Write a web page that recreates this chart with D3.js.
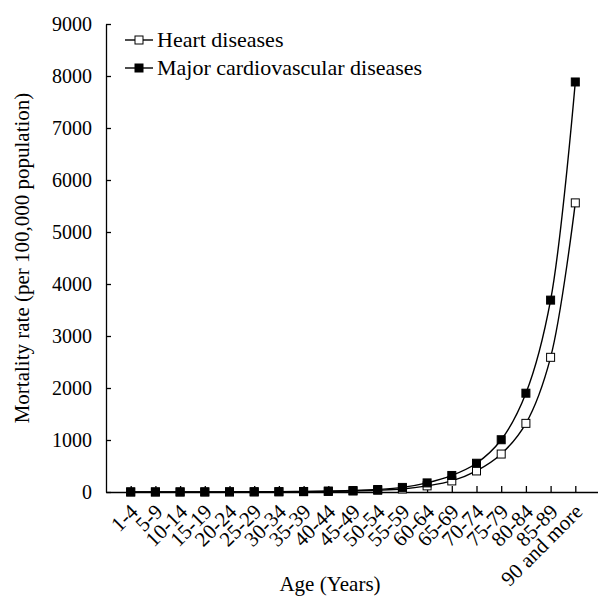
<!DOCTYPE html>
<html>
<head>
<meta charset="utf-8">
<script src="https://cdn.jsdelivr.net/npm/d3@7"></script>
<style>
  body { margin: 0; background: #fff; }
</style>
</head>
<body>
<svg id="chart" width="598" height="599"></svg>
<script>
// age groups on the x axis
let ageGroups = ["1-4", "5-9", "10-14", "15-19", "20-24", "25-29", "30-34", "35-39", "40-44",
    "45-49", "50-54", "55-59", "60-64", "65-69", "70-74", "75-79", "80-84", "85-89", "90 and more"];

// rates per 100,000
let heartDiseases = [1, 1, 1, 1, 2, 3, 4, 6, 11, 19, 33, 58, 118, 213, 405, 730, 1320, 2590, 5560];
let majorCardio = [1, 1, 1, 2, 3, 4, 6, 10, 18, 28, 48, 88, 175, 318, 553, 1005, 1900, 3690, 7885];

let yTicks = [0, 1000, 2000, 3000, 4000, 5000, 6000, 7000, 8000, 9000];

let svg = d3.select("#chart");
let serif = "'Liberation Serif', 'Times New Roman', serif";

let plotLeft = 106, plotRight = 600, plotTop = 24, plotBottom = 492;

// one empty slot on each side of the categories, points sit on the tick marks
let x = d3.scaleLinear().domain([0, ageGroups.length + 1]).range([plotLeft, plotRight]);
let y = d3.scaleLinear().domain([0, 9000]).range([plotBottom, plotTop]);

// y axis
let yAxis = d3.axisLeft(y).tickValues(yTicks).tickFormat(d3.format("d"))
    .tickSizeInner(-5).tickSizeOuter(0).tickPadding(14);
let gy = svg.append("g").attr("transform", `translate(${plotLeft},0)`).call(yAxis);
gy.selectAll("text").attr("dy", "0.33em").style("font-size", "20px");

// x axis
let xAxis = d3.axisBottom(x)
    .tickValues(d3.range(1, ageGroups.length + 1))
    .tickFormat(i => ageGroups[i - 1])
    .tickSizeInner(-6).tickSizeOuter(0);
let gx = svg.append("g").attr("transform", `translate(0,${plotBottom})`).call(xAxis);
gx.selectAll("text")
    .attr("text-anchor", "end")
    .attr("y", 0).attr("dy", 0)
    .style("font-size", "21px")
    .attr("transform", "translate(8,21) rotate(-45)");

svg.selectAll(".domain, .tick line").attr("stroke", "#000").attr("stroke-width", 1.3);
svg.selectAll(".tick text").style("font-family", serif).attr("fill", "#000");

// axis titles
svg.append("text")
    .attr("x", 330).attr("y", 591)
    .attr("text-anchor", "middle")
    .style("font-family", serif).style("font-size", "21px")
    .text("Age (Years)");

svg.append("text")
    .attr("transform", "translate(29,258) rotate(-90)")
    .attr("text-anchor", "middle")
    .style("font-family", serif).style("font-size", "21px")
    .text("Mortality rate (per 100,000 population)");

// lines
let line = d3.line()
    .x((d, i) => x(i + 1))
    .y(d => y(d))
    .curve(d3.curveCatmullRom.alpha(0.5));

let series = [
    {name: "Heart diseases", values: heartDiseases, fill: "#fff"},
    {name: "Major cardiovascular diseases", values: majorCardio, fill: "#000"}
];

let ms = 8;

series.forEach(s => {
    svg.append("path")
        .datum(s.values)
        .attr("d", line)
        .attr("fill", "none")
        .attr("stroke", "#000")
        .attr("stroke-width", 1.4);
});

series.forEach(s => {
    svg.append("g").selectAll("rect")
        .data(s.values)
        .join("rect")
        .attr("x", (d, i) => x(i + 1) - ms / 2)
        .attr("y", d => y(d) - ms / 2)
        .attr("width", ms).attr("height", ms)
        .attr("fill", s.fill)
        .attr("stroke", "#000")
        .attr("stroke-width", 1);
});

// legend
let legend = svg.append("g").attr("transform", "translate(125,40)");
series.forEach((s, i) => {
    let g = legend.append("g").attr("transform", `translate(0,${i * 28})`);
    g.append("line").attr("x1", 0).attr("x2", 28).attr("stroke", "#000").attr("stroke-width", 1.4);
    g.append("rect").attr("x", 14 - ms / 2).attr("y", -ms / 2).attr("width", ms).attr("height", ms)
        .attr("fill", s.fill).attr("stroke", "#000").attr("stroke-width", 1);
    g.append("text").attr("x", 32).attr("y", 0).attr("dy", "0.33em")
        .style("font-family", serif).style("font-size", "22px").text(s.name);
});
</script>
</body>
</html>
